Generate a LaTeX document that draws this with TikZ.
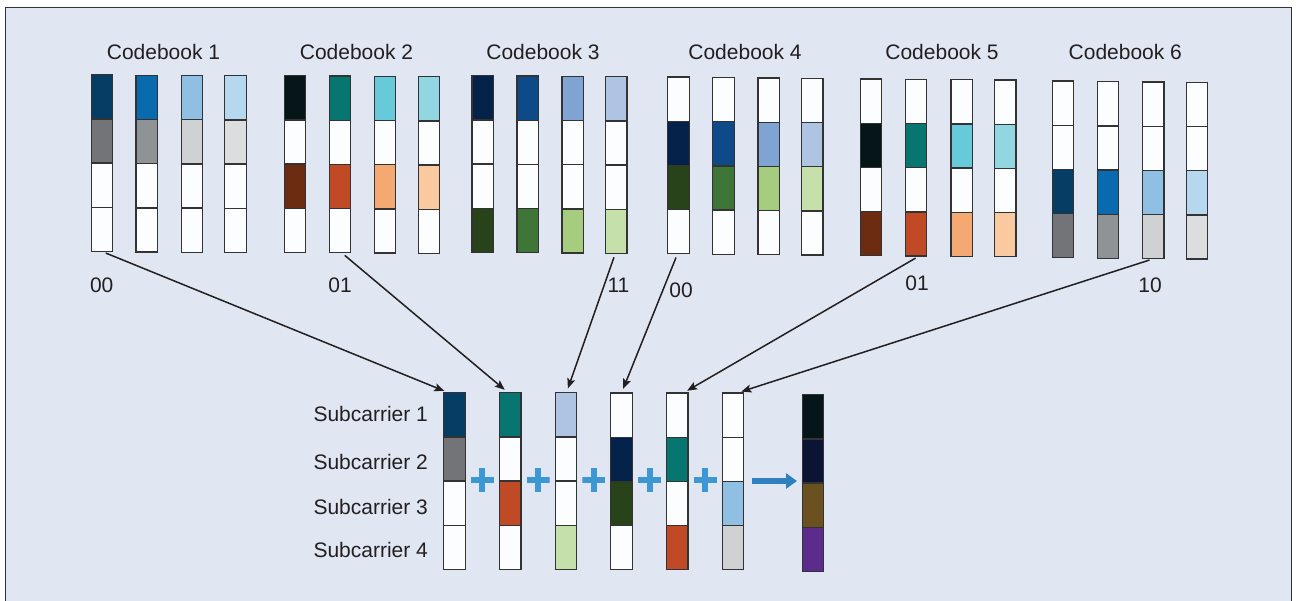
\documentclass[tikz,border=0pt]{standalone}
\usepackage{fontspec}
\setmainfont{Liberation Sans}
\usetikzlibrary{arrows.meta}

% palette
\definecolor{bg}{HTML}{E0E7F3}
\definecolor{txt}{HTML}{231F20}
\definecolor{cellline}{HTML}{333333}
\definecolor{cellwhite}{HTML}{FCFDFF}
\definecolor{plusblue}{HTML}{3D97D3}
\definecolor{arrowblue}{HTML}{2F80BD}
% codebook 1 / 6 family
\definecolor{navyA}{HTML}{063D65}
\definecolor{grayA}{HTML}{727477}
\definecolor{blueB}{HTML}{0A6AAE}
\definecolor{grayB}{HTML}{909396}
\definecolor{lblueC}{HTML}{8FBFE2}
\definecolor{lgrayC}{HTML}{D0D1D3}
\definecolor{lblueD}{HTML}{B6D8EF}
\definecolor{lgrayD}{HTML}{DCDDDF}
% codebook 2 / 5 family
\definecolor{blackA}{HTML}{061618}
\definecolor{tealB}{HTML}{077670}
\definecolor{cyanC}{HTML}{66CADA}
\definecolor{cyanD}{HTML}{91D6E1}
\definecolor{brownA}{HTML}{6C2C12}
\definecolor{rustB}{HTML}{C04A25}
\definecolor{peachC}{HTML}{F4A972}
\definecolor{peachD}{HTML}{F9C9A0}
% codebook 3 / 4 family
\definecolor{navyE}{HTML}{04224A}
\definecolor{blueF}{HTML}{0E4A87}
\definecolor{skyG}{HTML}{7FA3D3}
\definecolor{skyH}{HTML}{AFC4E3}
\definecolor{greenE}{HTML}{28431A}
\definecolor{greenF}{HTML}{3F7537}
\definecolor{greenG}{HTML}{A6CC7F}
\definecolor{greenH}{HTML}{C6E0AB}
% superimposed result
\definecolor{sumA}{HTML}{061618}
\definecolor{sumB}{HTML}{0B1533}
\definecolor{sumC}{HTML}{6B5120}
\definecolor{sumD}{HTML}{5B2C8C}

\tikzset{
  cellbox/.style={draw=cellline, line width=1.3pt, minimum width=21.5pt,
    minimum height=44.2pt, inner sep=0pt, outer sep=0pt, anchor=north},
  lbl/.style={font=\fontsize{21}{25}\selectfont, text=txt, inner sep=0pt},
  pick/.style={draw=txt, line width=1.5pt,
    -{Stealth[length=10pt,width=8pt,inset=2pt]}, shorten <=4pt, shorten >=4.5pt},
  plussign/.style={minimum width=23pt, minimum height=24pt, inner sep=0pt,
    path picture={\draw[plusblue, line width=6pt]
      (path picture bounding box.north) -- (path picture bounding box.south)
      (path picture bounding box.west) -- (path picture bounding box.east);}},
  sumarrow/.style={draw=arrowblue, line width=5.5pt,
    -{Triangle[length=11pt,width=15pt]}}
}

% one column of four subcarrier cells: name, x, top y, four fills
\newcommand\cellbar[7]{%
  \node[cellbox,fill=#4] (#1-1) at (#2,#3) {};
  \node[cellbox,fill=#5] (#1-2) at (#1-1.south) {};
  \node[cellbox,fill=#6] (#1-3) at (#1-2.south) {};
  \node[cellbox,fill=#7] (#1-4) at (#1-3.south) {};
}

\begin{document}
\begin{tikzpicture}[x=1pt,y=-1pt]
\useasboundingbox (0,0) rectangle (1297,600);
\clip (0,0) rectangle (1297,600);
\fill[white] (0,0) rectangle (1297,600);
\draw[fill=bg, draw=black!80, line width=1.4pt] (5.5,7.5) rectangle (1291.5,620);

% codebook titles
\node[lbl,anchor=base] (t1) at (163.5,59.5) {Codebook 1};
\node[lbl,anchor=base] (t2) at (356.5,59.5) {Codebook 2};
\node[lbl,anchor=base] (t3) at (543,59.5) {Codebook 3};
\node[lbl,anchor=base] (t4) at (745,59.5) {Codebook 4};
\node[lbl,anchor=base] (t5) at (942,59.5) {Codebook 5};
\node[lbl,anchor=base] (t6) at (1125.3,59.5) {Codebook 6};

% codebook 1
\cellbar{a1}{102}{74.7}{navyA}{grayA}{cellwhite}{cellwhite}
\cellbar{a2}{146.7}{75.3}{blueB}{grayB}{cellwhite}{cellwhite}
\cellbar{a3}{192}{75.5}{lblueC}{lgrayC}{cellwhite}{cellwhite}
\cellbar{a4}{235.5}{75.7}{lblueD}{lgrayD}{cellwhite}{cellwhite}
% codebook 2
\cellbar{b1}{295}{75.7}{blackA}{cellwhite}{brownA}{cellwhite}
\cellbar{b2}{340}{76}{tealB}{cellwhite}{rustB}{cellwhite}
\cellbar{b3}{385}{76.3}{cyanC}{cellwhite}{peachC}{cellwhite}
\cellbar{b4}{429}{76.7}{cyanD}{cellwhite}{peachD}{cellwhite}
% codebook 3
\cellbar{c1}{482.7}{75.7}{navyE}{cellwhite}{cellwhite}{greenE}
\cellbar{c2}{527.7}{76}{blueF}{cellwhite}{cellwhite}{greenF}
\cellbar{c3}{572.7}{76.3}{skyG}{cellwhite}{cellwhite}{greenG}
\cellbar{c4}{616.3}{76.7}{skyH}{cellwhite}{cellwhite}{greenH}
% codebook 4
\cellbar{d1}{678.5}{77}{cellwhite}{navyE}{greenE}{cellwhite}
\cellbar{d2}{723.5}{77.5}{cellwhite}{blueF}{greenF}{cellwhite}
\cellbar{d3}{768.7}{78}{cellwhite}{skyG}{greenG}{cellwhite}
\cellbar{d4}{812.3}{78.3}{cellwhite}{skyH}{greenH}{cellwhite}
% codebook 5
\cellbar{e1}{871}{79}{cellwhite}{blackA}{cellwhite}{brownA}
\cellbar{e2}{916}{79.3}{cellwhite}{tealB}{cellwhite}{rustB}
\cellbar{e3}{961.7}{79.7}{cellwhite}{cyanC}{cellwhite}{peachC}
\cellbar{e4}{1005.2}{80}{cellwhite}{cyanD}{cellwhite}{peachD}
% codebook 6
\cellbar{f1}{1062.9}{81}{cellwhite}{cellwhite}{navyA}{grayA}
\cellbar{f2}{1107.9}{81.7}{cellwhite}{cellwhite}{blueB}{grayB}
\cellbar{f3}{1153.3}{82}{cellwhite}{cellwhite}{lblueC}{lgrayC}
\cellbar{f4}{1196.9}{82.3}{cellwhite}{cellwhite}{lblueD}{lgrayD}

% chosen codewords
\node[lbl,anchor=base] (k1) at (101.7,292) {00};
\node[lbl,anchor=base] (k2) at (340,292) {01};
\node[lbl,anchor=base] (k3) at (618.5,292) {11};
\node[lbl,anchor=base] (k4) at (681,297) {00};
\node[lbl,anchor=base] (k5) at (917,290.5) {01};
\node[lbl,anchor=base] (k6) at (1150,292.5) {10};

% subcarrier labels
\node[lbl,anchor=base west] (s1) at (313.3,421) {Subcarrier 1};
\node[lbl,anchor=base west] (s2) at (313.3,469) {Subcarrier 2};
\node[lbl,anchor=base west] (s3) at (313.3,514) {Subcarrier 3};
\node[lbl,anchor=base west] (s4) at (313.3,557.5) {Subcarrier 4};

% selected codewords per user
\cellbar{u1}{454.5}{392.7}{navyA}{grayA}{cellwhite}{cellwhite}
\cellbar{u2}{510.2}{392.7}{tealB}{cellwhite}{rustB}{cellwhite}
\cellbar{u3}{565.9}{392.7}{skyH}{cellwhite}{cellwhite}{greenH}
\cellbar{u4}{621.5}{393}{cellwhite}{navyE}{greenE}{cellwhite}
\cellbar{u5}{677.2}{393}{cellwhite}{tealB}{cellwhite}{rustB}
\cellbar{u6}{733}{393}{cellwhite}{cellwhite}{lblueC}{lgrayC}
% superposition
\cellbar{r}{813}{394.7}{sumA}{sumB}{sumC}{sumD}

% plus signs between the user columns
\node[plussign] (p1) at (482.3,480.3) {};
\node[plussign] (p2) at (538,480.3) {};
\node[plussign] (p3) at (593.8,480.3) {};
\node[plussign] (p4) at (649.5,480.3) {};
\node[plussign] (p5) at (705.3,480.3) {};

% sum arrow
\coordinate (sumS) at (752.3,481);
\coordinate (sumE) at (797,481);
\draw[sumarrow] (sumS) -- (sumE);

% codeword selection arrows
\draw[pick] (a1-4.south) -- ([xshift=-6pt]u1-1.north);
\draw[pick] ([xshift=1.7pt]b2-4.south) -- ([xshift=-2pt]u2-1.north);
\draw[pick] ([xshift=-1pt]c4-4.south) -- ([xshift=0.5pt]u3-1.north);
\draw[pick] ([xshift=-1pt]d1-4.south) -- ([xshift=0pt]u4-1.north);
\draw[pick] ([xshift=3pt]e2-4.south) -- ([xshift=6pt]u5-1.north);
\draw[pick] (f3-4.south) -- ([xshift=4pt]u6-1.north);
\end{tikzpicture}
\end{document}
